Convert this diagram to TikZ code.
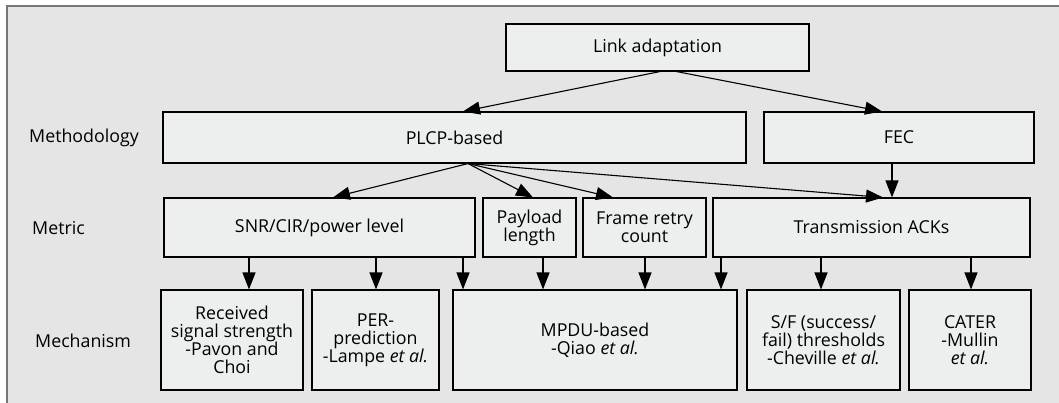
\documentclass[tikz,border=0pt]{standalone}
\usepackage{fontspec}
\setmainfont{Open Sans}
\usetikzlibrary{arrows.meta,calc}
\definecolor{bgc}{HTML}{E5E5E5}
\definecolor{boxc}{HTML}{ECEFEE}
\definecolor{framec}{HTML}{777777}
\tikzset{
  box/.style={draw=black, fill=boxc, line width=1.1pt, inner sep=1pt, align=center, font=\fontsize{17.8}{18}\selectfont},
  arr/.style={line width=1.1pt, -{Triangle[length=17pt,width=13pt]}},
  lbl/.style={anchor=west, inner sep=0pt, font=\fontsize{17.8}{18}\selectfont}
}
\begin{document}
\begin{tikzpicture}[x=1pt,y=-1pt]
\useasboundingbox (0,0) rectangle (1059,402);
\clip (0,0) rectangle (1059,402);
\fill[bgc] (7,6) rectangle (1080,420);
\draw[framec, line width=2pt] (7,420) -- (7,6) -- (1080,6);
% top
\node[box, minimum width=303, minimum height=47] (link) at (657.5,47.5) {Link adaptation};
% methodology
\node[box, minimum width=583, minimum height=51] (plcp) at (454.5,137.5) {PLCP-based};
\node[box, minimum width=270, minimum height=51] (fec) at (899,137.5) {FEC};
% metric
\node[box, minimum width=311, minimum height=59] (snr) at (319.5,227.5) {SNR/CIR/power level};
\node[box, minimum width=93, minimum height=59] (pay) at (529.5,227.5) {Payload\\length};
\node[box, minimum width=123, minimum height=59] (frame) at (644.5,227.5) {Frame retry\\count};
\node[box, minimum width=317, minimum height=59] (ack) at (871.5,227.5) {Transmission ACKs};
% mechanism
\node[box, minimum width=142, minimum height=100] (recv) at (232,340) {Received\\signal strength\\-Pavon and\\Choi};
\node[box, minimum width=127, minimum height=100] (per) at (375.5,340) {PER-\\prediction\\-Lampe \textit{et al.}};
\node[box, minimum width=284, minimum height=100] (mpdu) at (595,340) {MPDU-based\\-Qiao \textit{et al.}};
\node[box, minimum width=153, minimum height=100] (sf) at (823.5,340) {S/F (success/\\fail) thresholds\\-Cheville \textit{et al.}};
\node[box, minimum width=122, minimum height=100] (cater) at (970,340) {CATER\\-Mullin\\\textit{et al.}};
% row labels
\node[lbl] (lm) at (29,137.5) {Methodology};
\node[lbl] (lmet) at (32,228) {Metric};
\node[lbl] (lmech) at (35,341) {Mechanism};
% arrows from link
\draw[arr] ([xshift=2.5]link.south) -- ([xshift=8.5]plcp.north);
\draw[arr] ([xshift=19]link.south) -- ([xshift=-17]fec.north);
% arrows from plcp
\coordinate (po) at ([xshift=13.5]plcp.south);
\draw[arr] (po) -- ([xshift=13.5]snr.north);
\draw[arr] (po) -- ([xshift=3.5]pay.north);
\draw[arr] (po) -- ([xshift=-31.5]frame.north);
\draw[arr] (po) -- ([xshift=11.5]ack.north);
% fec down
\draw[arr] ([xshift=-7]fec.south) -- ([xshift=-7]fec.south |- ack.north);
% metric to mechanism
\coordinate (x1) at (249,0);
\coordinate (x2) at (376,0);
\coordinate (x3) at (463,0);
\coordinate (x4) at (543,0);
\coordinate (x5) at (645,0);
\coordinate (x6) at (721,0);
\coordinate (x7) at (821,0);
\coordinate (x8) at (971,0);
\draw[arr] (snr.south -| x1) -- (recv.north -| x1);
\draw[arr] (snr.south -| x2) -- (per.north -| x2);
\draw[arr] (snr.south -| x3) -- (mpdu.north -| x3);
\draw[arr] (pay.south -| x4) -- (mpdu.north -| x4);
\draw[arr] (frame.south -| x5) -- (mpdu.north -| x5);
\draw[arr] (ack.south -| x6) -- (mpdu.north -| x6);
\draw[arr] (ack.south -| x7) -- (sf.north -| x7);
\draw[arr] (ack.south -| x8) -- (cater.north -| x8);
\end{tikzpicture}
\end{document}
